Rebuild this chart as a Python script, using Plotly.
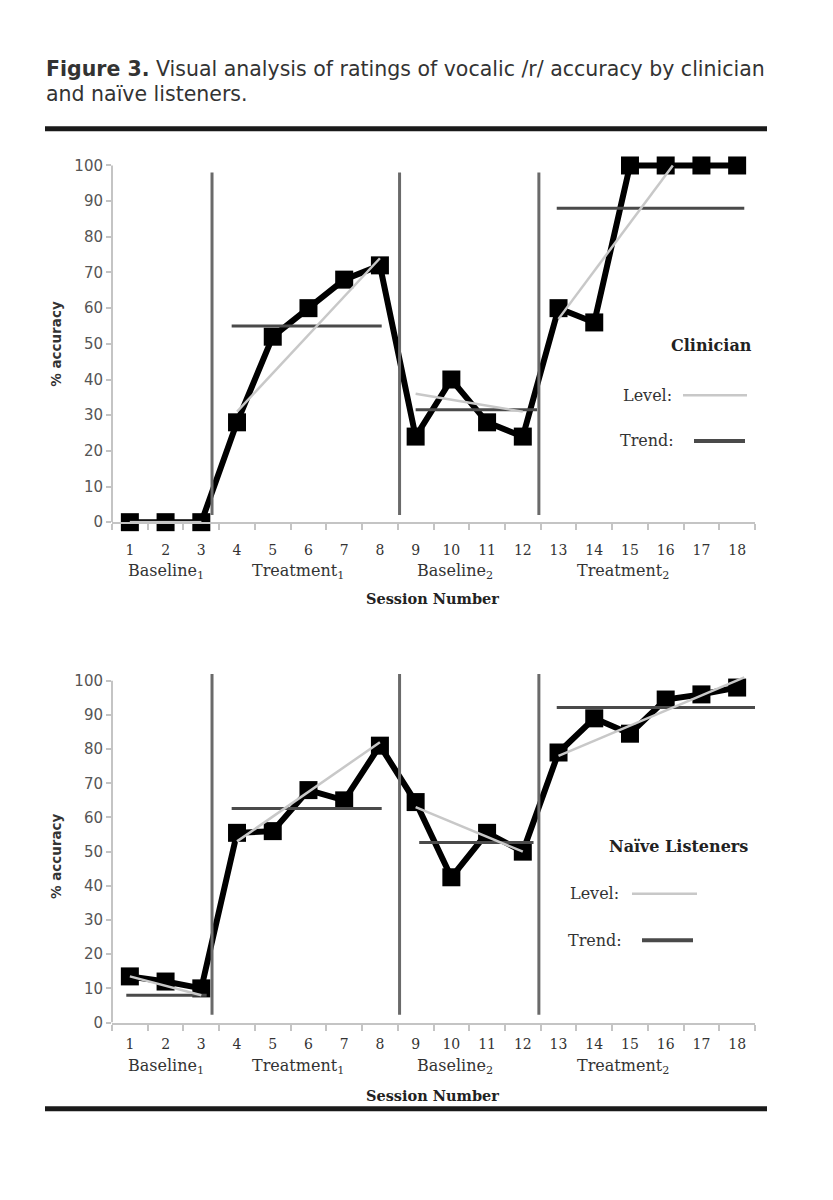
import plotly.graph_objects as go

# ---------------- data ----------------
sessions = list(range(1, 19))
session_labels = [str(s) for s in sessions]
clinician = [0, 0, 0, 28, 52, 60, 68, 72, 24, 40, 28, 24, 60, 56, 100, 100, 100, 100]
naive = [13.5, 12, 10, 55.5, 56, 68, 65, 81, 64.5, 42.5, 55.5, 50, 79, 89, 84.5, 94.5, 96, 98]

phase_names = ["Baseline<sub>1</sub>", "Treatment<sub>1</sub>", "Baseline<sub>2</sub>", "Treatment<sub>2</sub>"]
phase_label_x = [2.0, 5.7, 10.1, 14.8]
phase_changes = [3.3, 8.55, 12.45]

# dark horizontal lines (per phase): start session, end session, value
clin_level_x0 = [1, 3.85, 9, 12.95]
clin_level_x1 = [3, 8.05, 12.4, 18.2]
clin_level_y = [0, 55, 31.5, 88]
# light sloped lines (per phase)
clin_trend_x0 = [1, 4, 9, 13]
clin_trend_x1 = [3, 8, 12, 16.2]
clin_trend_y0 = [0, 31, 36, 57]
clin_trend_y1 = [0, 74, 31, 100]

naive_level_x0 = [0.9, 3.85, 9.1, 12.95]
naive_level_x1 = [3.15, 8.05, 12.3, 18.7]
naive_level_y = [8, 62.6, 52.7, 92.2]
naive_trend_x0 = [1, 4, 9, 13]
naive_trend_x1 = [3, 8, 12, 18.2]
naive_trend_y0 = [13.5, 53, 63, 78]
naive_trend_y1 = [8, 82, 50, 101]

y_ticks = list(range(0, 101, 10))

# ---------------- styles ----------------
SERIF = "DejaVu Serif"
SANS = "DejaVu Sans"
AXIS_GRAY = "#c4c4c4"
DARK = "#4a4a4a"
LIGHT = "#c8c8c8"
PW, PH = 833, 1200


def px(x):
    return x / PW


def py(y):
    return 1 - y / PH


fig = go.Figure()


def add_panel(values, lx0, lx1, ly, tx0, tx1, ty0, ty1, xa, ya):
    # data line
    fig.add_trace(go.Scatter(
        x=sessions, y=values, mode="lines+markers", xaxis=xa, yaxis=ya,
        line=dict(color="black", width=6),
        marker=dict(symbol="square", size=18, color="black"),
        cliponaxis=False, hoverinfo="skip"))
    # dark horizontal lines
    xs, ys = [], []
    for a, b, v in zip(lx0, lx1, ly):
        xs += [a, b, None]
        ys += [v, v, None]
    fig.add_trace(go.Scatter(x=xs, y=ys, mode="lines", xaxis=xa, yaxis=ya,
                             line=dict(color=DARK, width=3), hoverinfo="skip"))
    # light sloped lines
    xs, ys = [], []
    for a, b, v0, v1 in zip(tx0, tx1, ty0, ty1):
        xs += [a, b, None]
        ys += [v0, v1, None]
    fig.add_trace(go.Scatter(x=xs, y=ys, mode="lines", xaxis=xa, yaxis=ya,
                             line=dict(color=LIGHT, width=2.5), hoverinfo="skip"))


add_panel(clinician, clin_level_x0, clin_level_x1, clin_level_y,
          clin_trend_x0, clin_trend_x1, clin_trend_y0, clin_trend_y1, "x", "y")
add_panel(naive, naive_level_x0, naive_level_x1, naive_level_y,
          naive_trend_x0, naive_trend_x1, naive_trend_y0, naive_trend_y1, "x2", "y2")

x_domain = [px(112), px(755)]


def xaxis_cfg(anchor, ticklen):
    return dict(
        domain=x_domain, range=[0.5, 18.5], anchor=anchor,
        tickmode="array", tickvals=sessions, ticktext=session_labels,
        ticks="outside", ticklen=ticklen, tickcolor="rgba(0,0,0,0)",
        tickfont=dict(family=SERIF, size=14, color="#333"),
        showline=True, linecolor=AXIS_GRAY, linewidth=2,
        showgrid=False, zeroline=False,
        minor=dict(tickvals=[s - 0.5 for s in sessions] + [18.5], ticks="outside",
                   ticklen=6, tickcolor=AXIS_GRAY, tickwidth=1.5, showgrid=False),
    )


def yaxis_cfg(anchor, rng, dom):
    return dict(
        domain=dom, range=rng, anchor=anchor,
        tickmode="array", tickvals=y_ticks,
        ticks="outside", ticklen=5, tickcolor=AXIS_GRAY, tickwidth=1.5,
        tickfont=dict(family=SANS, size=15, color="#555"),
        showline=False, showgrid=False, zeroline=False,
    )


fig.update_layout(
    width=PW, height=PH, margin=dict(l=0, r=0, t=0, b=0),
    paper_bgcolor="white", plot_bgcolor="white", showlegend=False,
    xaxis=xaxis_cfg("y", 14),
    yaxis=yaxis_cfg("x", [0, 102], [py(525), py(157.8)]),
    xaxis2=xaxis_cfg("y2", 8),
    yaxis2=yaxis_cfg("x2", [0, 103], [py(1030), py(674.65)]),
)

shapes = []
# y axis lines (0..100)
for xr, yr in [("x domain", "y"), ("x2 domain", "y2")]:
    shapes.append(dict(type="line", xref=xr, yref=yr, x0=0, x1=0, y0=0, y1=100,
                       line=dict(color=AXIS_GRAY, width=2)))
# phase change lines
for xr, yr, y0, y1 in [("x", "y", 2, 98), ("x2", "y2", 2.3, 102)]:
    for pc in phase_changes:
        shapes.append(dict(type="line", xref=xr, yref=yr, x0=pc, x1=pc, y0=y0, y1=y1,
                           line=dict(color="#6a6a6a", width=3)))
# rules
for yy in [128, 1117]:
    shapes.append(dict(type="line", xref="paper", yref="paper", x0=px(45), x1=px(767),
                       y0=py(yy), y1=py(yy), line=dict(color="#1a1a1a", width=5)))
# legend samples
legend_lines = [
    (683, 747, 397, LIGHT, 2.5), (694, 745, 443, DARK, 4),
    (632, 697, 900, LIGHT, 2.5), (642, 693, 947, DARK, 4),
]
for a, b, yy, c, w in legend_lines:
    shapes.append(dict(type="line", xref="paper", yref="paper", x0=px(a), x1=px(b),
                       y0=py(yy), y1=py(yy), line=dict(color=c, width=w)))
fig.update_layout(shapes=shapes)

ann = []


def note(text, x, y, font, xref="paper", xanchor="center", textangle=0):
    ann.append(dict(xref=xref, yref="paper", x=x, y=y, xanchor=xanchor, yanchor="middle",
                    showarrow=False, align="left", text=text, font=font, textangle=textangle))


TITLE_FONT = dict(family="DejaVu Sans", size=20.5, color="#333")
note("<b>Figure 3.</b> Visual analysis of ratings of vocalic /r/ accuracy by clinician",
     px(44), py(68), TITLE_FONT, xanchor="left")
note("and naïve listeners.", px(44), py(93), TITLE_FONT, xanchor="left")
# y titles
for yy in [345, 862]:
    note("<b>% accuracy</b>", px(56), py(yy), dict(family=SANS, size=13.5, color="#333"), textangle=-90)
# phase labels and x titles
for xr, ly, sy in [("x", 575, 602), ("x2", 1074, 1104)]:
    for name, lx in zip(phase_names, phase_label_x):
        note(name, lx, py(ly), dict(family=SERIF, size=16, color="#333"), xref=xr)
    note("<b>Session Number</b>", 9.47, py(sy), dict(family=SERIF, size=14.5, color="#222"), xref=xr)
# legend texts
note("<b>Clinician</b>", px(711), py(347), dict(family=SERIF, size=16, color="#222"))
note("<b>Naïve Listeners</b>", px(678), py(852), dict(family=SERIF, size=16, color="#222"))
for txt, xx, yy in [("Level:", 674, 397), ("Trend:", 676, 443), ("Level:", 621, 900), ("Trend:", 624, 947)]:
    note(txt, px(xx), py(yy), dict(family=SERIF, size=16, color="#333"), xanchor="right")
fig.update_layout(annotations=ann)

fig.write_html("out.html")
